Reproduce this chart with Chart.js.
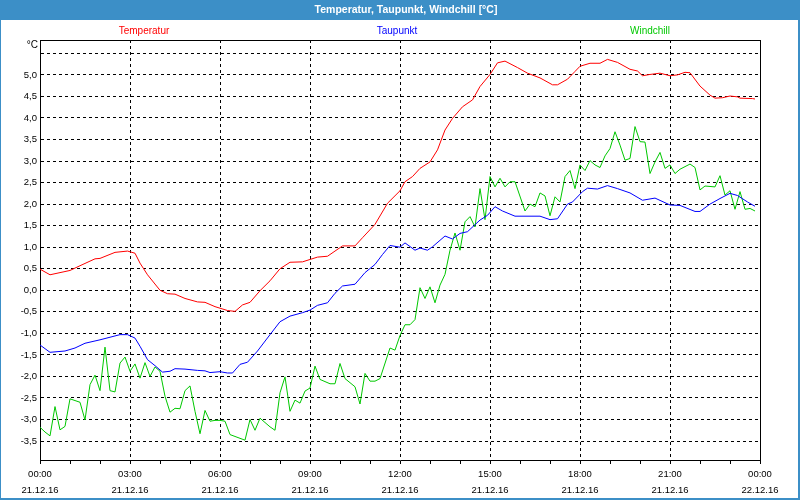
<!DOCTYPE html>
<html>
<head>
<meta charset="utf-8">
<script src="https://cdn.jsdelivr.net/npm/chart.js@4/dist/chart.umd.min.js"></script>
<style>
  html, body { margin: 0; padding: 0; background: #fff; }
  canvas { display: block; }
</style>
</head>
<body>
<canvas id="weather" width="800" height="500"></canvas>
<script>
// series names + colours
const seriesNames = ['Temperatur', 'Taupunkt', 'Windchill'];
const seriesColors = ['#ff0000', '#0000ff', '#00c800'];

// x axis labels, one every 3 hours
const timeLabels = ['00:00', '03:00', '06:00', '09:00', '12:00', '15:00', '18:00', '21:00', '00:00'];
const dateLabels = ['21.12.16', '21.12.16', '21.12.16', '21.12.16', '21.12.16', '21.12.16', '21.12.16', '21.12.16', '22.12.16'];
const yTickValues = [-3.5, -3, -2.5, -2, -1.5, -1, -0.5, 0, 0.5, 1, 1.5, 2, 2.5, 3, 3.5, 4, 4.5, 5, 5.5];

// temperature, minutes after midnight
const tempMinutes = [0, 20, 40, 60, 80, 110, 120, 150, 175, 190, 200, 215, 240, 255, 270, 290, 315, 330, 350, 375,
    390, 405, 420, 440, 460, 480, 500, 525, 555, 575, 590, 605, 630, 645, 670, 695, 720, 730, 745, 760,
    780, 795, 810, 825, 845, 865, 880, 900, 915, 930, 955, 975, 1000, 1025, 1035, 1055, 1070, 1080, 1100, 1120,
    1135, 1155, 1180, 1195, 1205, 1220, 1240, 1260, 1275, 1290, 1300, 1320, 1340, 1350, 1365, 1380, 1395, 1400, 1425, 1430];
const temperatur = [0.49, 0.36, 0.41, 0.46, 0.57, 0.73, 0.74, 0.88, 0.91, 0.86, 0.63, 0.36, 0.0, -0.08, -0.09, -0.19, -0.27, -0.28, -0.38, -0.47,
    -0.49, -0.34, -0.28, -0.01, 0.22, 0.5, 0.65, 0.66, 0.77, 0.79, 0.91, 1.03, 1.03, 1.22, 1.53, 2.02, 2.31, 2.52, 2.64, 2.83,
    2.98, 3.26, 3.72, 3.99, 4.26, 4.42, 4.73, 5.01, 5.28, 5.32, 5.17, 5.04, 4.93, 4.77, 4.77, 4.9, 5.08, 5.2, 5.27, 5.27,
    5.36, 5.29, 5.13, 5.09, 4.98, 5.01, 5.04, 4.98, 5.0, 5.06, 5.05, 4.74, 4.53, 4.46, 4.47, 4.51, 4.49, 4.46, 4.45, 4.44];

// dew point
const dewMinutes = [0, 20, 50, 70, 90, 120, 140, 160, 175, 190, 200, 215, 230, 245, 260, 270, 290, 315, 330, 340,
    360, 375, 385, 400, 415, 435, 460, 480, 500, 525, 540, 555, 575, 590, 605, 630, 650, 670, 685, 700,
    720, 730, 750, 760, 775, 785, 810, 825, 840, 855, 880, 895, 910, 925, 950, 1000, 1020, 1035, 1055, 1065,
    1085, 1095, 1115, 1135, 1155, 1180, 1205, 1230, 1260, 1280, 1310, 1320, 1340, 1360, 1380, 1395, 1415, 1430];
const taupunkt = [-1.27, -1.44, -1.41, -1.34, -1.23, -1.15, -1.09, -1.03, -1.03, -1.11, -1.3, -1.61, -1.75, -1.9, -1.88, -1.82, -1.83, -1.86, -1.87, -1.91,
    -1.89, -1.92, -1.92, -1.72, -1.67, -1.41, -1.03, -0.73, -0.6, -0.52, -0.46, -0.35, -0.29, -0.07, 0.1, 0.14, 0.41, 0.6, 0.83, 1.04,
    1.0, 1.1, 0.93, 0.98, 0.93, 1.01, 1.26, 1.19, 1.32, 1.36, 1.63, 1.74, 1.94, 1.84, 1.72, 1.72, 1.64, 1.66, 2.0, 2.05,
    2.29, 2.37, 2.35, 2.43, 2.36, 2.26, 2.09, 2.14, 1.98, 1.97, 1.83, 1.83, 2.0, 2.13, 2.25, 2.2, 2.05, 1.95];

// windchill
const chillMinutes = [0, 10, 20, 30, 40, 50, 60, 80, 90, 100, 110, 120, 130, 140, 150, 160, 170, 180, 190, 200,
    210, 220, 230, 240, 250, 260, 270, 280, 290, 300, 310, 320, 330, 340, 350, 360, 370, 380, 410, 420,
    430, 440, 460, 470, 480, 490, 500, 510, 520, 530, 540, 550, 560, 580, 590, 600, 610, 630, 640, 650,
    660, 670, 680, 700, 710, 720, 730, 740, 750, 760, 770, 780, 790, 800, 810, 820, 830, 840, 850, 860,
    870, 880, 890, 900, 910, 920, 930, 940, 950, 970, 980, 990, 1000, 1010, 1020, 1030, 1040, 1050, 1060, 1070,
    1080, 1090, 1100, 1110, 1120, 1130, 1140, 1150, 1160, 1170, 1180, 1190, 1200, 1210, 1220, 1230, 1240, 1250, 1260, 1270,
    1280, 1300, 1310, 1320, 1330, 1350, 1360, 1370, 1380, 1390, 1400, 1410, 1420, 1430];
const windchill = [-3.18, -3.29, -3.38, -2.7, -3.24, -3.16, -2.52, -2.6, -3.01, -2.19, -1.97, -2.33, -1.32, -2.33, -2.36, -1.69, -1.55, -1.88, -1.71, -2.04,
    -1.68, -2.0, -1.78, -1.88, -2.46, -2.83, -2.74, -2.75, -2.33, -2.22, -2.81, -3.33, -2.79, -3.04, -3.02, -3.02, -3.04, -3.35, -3.48, -3.0,
    -3.25, -2.97, -3.17, -3.25, -2.38, -2.01, -2.81, -2.55, -2.62, -2.34, -2.27, -1.76, -2.07, -2.17, -2.17, -1.7, -2.05, -2.24, -2.64, -1.93,
    -2.11, -2.11, -2.05, -1.34, -1.39, -1.05, -0.8, -0.8, -0.68, 0.06, -0.19, 0.08, -0.29, 0.12, 0.37, 0.93, 1.33, 0.93, 1.59, 1.71,
    1.47, 2.36, 1.64, 2.64, 2.4, 2.6, 2.4, 2.52, 2.52, 1.84, 2.0, 1.94, 2.26, 2.19, 1.73, 2.17, 2.05, 2.64, 2.78, 2.36,
    2.91, 2.78, 3.01, 2.91, 2.85, 3.12, 3.29, 3.68, 3.37, 3.02, 3.06, 3.8, 3.45, 3.44, 2.71, 2.98, 3.2, 2.83, 2.91, 2.71,
    2.81, 2.93, 2.85, 2.33, 2.42, 2.4, 2.66, 2.21, 2.31, 1.88, 2.29, 1.88, 1.9, 1.84];

const toPoints = (mins, vals) => mins.map((m, i) => ({ x: m, y: vals[i] }));

const frameBlue = 'rgb(60,143,199)';
const labelFont = "'Liberation Sans', Arial, sans-serif";

// title bar, blue frame, legend words and the °C unit
const framePlugin = {
    id: 'frame',
    beforeDraw(chart) {
        const ctx = chart.ctx;
        ctx.save();
        ctx.fillStyle = '#ffffff';
        ctx.fillRect(0, 0, chart.width, chart.height);
        ctx.fillStyle = frameBlue;
        ctx.fillRect(0, 0, chart.width, 20);
        ctx.fillRect(0, 0, 1, chart.height);
        ctx.fillRect(chart.width - 2, 0, 2, chart.height);
        ctx.fillRect(0, chart.height - 2, chart.width, 2);

        ctx.fillStyle = '#ffffff';
        ctx.font = 'bold 10.5px ' + labelFont;
        ctx.textAlign = 'center';
        ctx.textBaseline = 'middle';
        ctx.fillText('Temperatur, Taupunkt, Windchill [°C]', 406, 10);

        ctx.font = '10px ' + labelFont;
        const legendX = [144, 397, 650];
        seriesNames.forEach((name, i) => {
            ctx.fillStyle = seriesColors[i];
            ctx.fillText(name, legendX[i], 31);
        });

        ctx.fillStyle = '#000';
        ctx.textAlign = 'right';
        ctx.fillText('°C', 38, 45);
        ctx.restore();
    },
    afterDraw(chart) {
        const a = chart.chartArea;
        const ctx = chart.ctx;
        ctx.save();
        ctx.strokeStyle = '#000';
        ctx.lineWidth = 1;
        ctx.beginPath();
        ctx.moveTo(a.left, a.top + 0.5);
        ctx.lineTo(a.right + 0.5, a.top + 0.5);
        ctx.lineTo(a.right + 0.5, a.bottom);
        ctx.stroke();
        ctx.restore();
    }
};

const ctx = document.getElementById('weather').getContext('2d');
new Chart(ctx, {
    type: 'line',
    data: {
        datasets: [
            { label: seriesNames[0], data: toPoints(tempMinutes, temperatur), borderColor: seriesColors[0] },
            { label: seriesNames[1], data: toPoints(dewMinutes, taupunkt), borderColor: seriesColors[1] },
            { label: seriesNames[2], data: toPoints(chillMinutes, windchill), borderColor: seriesColors[2] }
        ]
    },
    options: {
        responsive: false,
        animation: false,
        devicePixelRatio: 1,
        elements: {
            point: { radius: 0 },
            line: { borderWidth: 1, tension: 0 }
        },
        layout: { padding: { top: 40, right: 40, left: 0, bottom: 0 } },
        plugins: {
            legend: { display: false },
            tooltip: { enabled: false }
        },
        scales: {
            x: {
                type: 'linear',
                min: 0,
                max: 1440,
                afterBuildTicks: (scale) => {
                    let t = [];
                    for (let m = 0; m <= 1440; m += 60) t.push({ value: m });
                    scale.ticks = t;
                },
                afterFit: (scale) => { scale.height = 40; },
                ticks: {
                    autoSkip: false,
                    maxRotation: 0,
                    minRotation: 0,
                    padding: 2,
                    color: '#000',
                    font: { family: labelFont, size: 9.5, lineHeight: '16px' },
                    callback: (v) => v % 180 === 0 ? [timeLabels[v / 180], dateLabels[v / 180]] : ''
                },
                grid: {
                    color: (c) => (c.tick && c.tick.value % 180 === 0) ? '#000' : 'rgba(0,0,0,0)',
                    tickColor: '#000',
                    tickLength: 4,
                    lineWidth: 1
                },
                border: { display: true, color: '#000', width: 1, dash: [3, 3] }
            },
            y: {
                min: -3.94,
                max: 5.81,
                afterBuildTicks: (scale) => {
                    scale.ticks = yTickValues.map(v => ({ value: v }));
                },
                afterFit: (scale) => { scale.width = 40; },
                ticks: {
                    padding: 3,
                    color: '#000',
                    font: { family: labelFont, size: 9.5 },
                    callback: (v) => v === 5.5 ? '' : v.toFixed(1).replace('.', ',')
                },
                grid: {
                    color: '#000',
                    drawTicks: false,
                    lineWidth: 1
                },
                border: { display: true, color: '#000', width: 1, dash: [3, 3] }
            }
        }
    },
    plugins: [framePlugin]
});
</script>
</body>
</html>
